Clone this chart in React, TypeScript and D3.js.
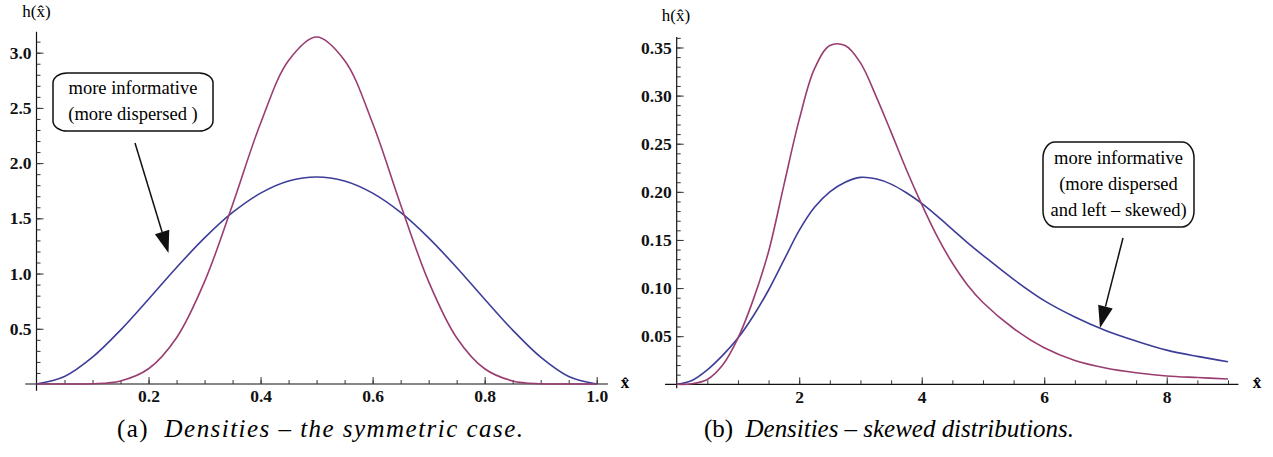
import React, { useEffect, useRef } from "react";
import * as d3 from "d3";

// ---- panel (a): densities, symmetric case ----
const xsA = [0, 0.05, 0.1, 0.15, 0.2, 0.25, 0.3, 0.35, 0.4, 0.45, 0.5, 0.55, 0.6, 0.65, 0.7, 0.75, 0.8, 0.85, 0.9, 0.95, 1.0];
const blueA = [0, 0.068, 0.243, 0.488, 0.768, 1.055, 1.323, 1.553, 1.728, 1.838, 1.875, 1.838, 1.728, 1.553, 1.323, 1.055, 0.768, 0.488, 0.243, 0.068, 0];
const redA = [0, 0, 0.002, 0.028, 0.138, 0.419, 0.927, 1.624, 2.361, 2.929, 3.142, 2.929, 2.361, 1.624, 0.927, 0.419, 0.138, 0.028, 0.002, 0, 0];
const xTicksA = [0.2, 0.4, 0.6, 0.8, 1.0];
const yTicksA = [0.5, 1.0, 1.5, 2.0, 2.5, 3.0];
const noteA = ["more informative", "(more dispersed )"];

// ---- panel (b): densities, skewed distributions ----
const xsB = [0, 0.25, 0.5, 0.75, 1, 1.25, 1.5, 1.75, 2, 2.25, 2.5, 2.75, 3, 3.25, 3.5, 3.75, 4, 4.25, 4.5, 4.75, 5, 5.5, 6, 6.5, 7, 7.5, 8, 8.5, 9];
const blueB = [0, 0.004, 0.015, 0.03, 0.048, 0.071, 0.098, 0.129, 0.16, 0.184, 0.2, 0.21, 0.215, 0.2135, 0.208, 0.199, 0.188, 0.175, 0.161, 0.147, 0.134, 0.109, 0.087, 0.07, 0.056, 0.045, 0.0355, 0.029, 0.0235];
const redB = [0, 0.0005, 0.005, 0.02, 0.048, 0.088, 0.138, 0.207, 0.275, 0.328, 0.352, 0.352, 0.334, 0.3, 0.262, 0.223, 0.187, 0.154, 0.126, 0.103, 0.085, 0.058, 0.038, 0.0248, 0.017, 0.012, 0.0087, 0.007, 0.0055];
const xTicksB = [2, 4, 6, 8];
const yTicksB = [0.05, 0.1, 0.15, 0.2, 0.25, 0.3, 0.35];
const noteB = ["more informative", "(more dispersed", "and left \u2013 skewed)"];

const BLUE = "#3d3d99";
const RED = "#993d71";
const SERIF = "'Liberation Serif', 'DejaVu Serif', serif";

function drawPanel(svg, p) {
  const x = d3.scaleLinear().domain(p.xDomain).range(p.xRange);
  const y = d3.scaleLinear().domain(p.yDomain).range(p.yRange);
  const g = svg.append("g");

  // axis lines (axes cross at the origin, a bit of padding past the ends)
  g.append("line")
    .attr("x1", x(p.xLine[0])).attr("x2", x(p.xLine[1]))
    .attr("y1", y(0)).attr("y2", y(0))
    .attr("stroke", "#111").attr("stroke-width", 1.2);
  g.append("line")
    .attr("x1", x(0)).attr("x2", x(0))
    .attr("y1", y(p.yLine[0])).attr("y2", y(p.yLine[1]))
    .attr("stroke", "#111").attr("stroke-width", 1.2);

  // x ticks, pointing up
  const xMinor = g.append("g").attr("transform", `translate(0,${y(0)})`)
    .call(d3.axisBottom(x).tickValues(p.xMinor).tickSize(-4).tickFormat(() => ""));
  const xMajor = g.append("g").attr("transform", `translate(0,${y(0)})`)
    .call(d3.axisBottom(x).tickValues(p.xTicks).tickSize(-7).tickPadding(6).tickFormat(p.xFormat));

  // y ticks, pointing right
  const yMinor = g.append("g").attr("transform", `translate(${x(0)},0)`)
    .call(d3.axisLeft(y).tickValues(p.yMinor).tickSize(-4).tickFormat(() => ""));
  const yMajor = g.append("g").attr("transform", `translate(${x(0)},0)`)
    .call(d3.axisLeft(y).tickValues(p.yTicks).tickSize(-7).tickPadding(5).tickFormat(p.yFormat));

  [xMinor, xMajor, yMinor, yMajor].forEach((a) => {
    a.select(".domain").remove();
    a.attr("color", "#333")
      .attr("font-family", SERIF)
      .attr("font-weight", "bold")
      .attr("font-size", 17.5);
    a.selectAll("text").attr("fill", "#111");
  });

  // curves
  const line = d3.line()
    .x((d) => x(d[0]))
    .y((d) => y(d[1]))
    .curve(d3.curveCatmullRom.alpha(0.5));
  p.series.forEach((s) => {
    g.append("path")
      .attr("d", line(p.xs.map((v, i) => [v, s.values[i]])))
      .attr("fill", "none")
      .attr("stroke", s.color)
      .attr("stroke-width", 1.6);
  });

  // axis titles
  g.append("text")
    .attr("x", p.yTitle[0]).attr("y", p.yTitle[1])
    .attr("text-anchor", "middle")
    .attr("font-family", SERIF).attr("font-size", 17)
    .text("h(x\u0302)");
  g.append("text")
    .attr("x", p.xTitle[0]).attr("y", p.xTitle[1])
    .attr("text-anchor", "middle")
    .attr("font-family", SERIF).attr("font-size", 17).attr("font-weight", "bold")
    .text("x\u0302");

  // annotation box + arrow
  const b = p.box;
  g.append("rect")
    .attr("x", b.x).attr("y", b.y).attr("width", b.w).attr("height", b.h)
    .attr("rx", b.rx).attr("ry", b.ry)
    .attr("fill", "white").attr("stroke", "#111").attr("stroke-width", 1.5);
  b.lines.forEach((t, i) => {
    g.append("text")
      .attr("x", b.x + b.w / 2).attr("y", b.firstBase + i * 26)
      .attr("text-anchor", "middle")
      .attr("font-family", SERIF).attr("font-size", 18.5)
      .text(t);
  });

  const [sx, sy] = p.arrow.from;
  const [tx, ty] = p.arrow.to;
  const len = Math.hypot(tx - sx, ty - sy);
  const ux = (tx - sx) / len, uy = (ty - sy) / len;
  const head = 22, half = 7.5;
  const bx = tx - ux * head, by = ty - uy * head;
  g.append("line")
    .attr("x1", sx).attr("y1", sy).attr("x2", bx).attr("y2", by)
    .attr("stroke", "#111").attr("stroke-width", 1.5);
  g.append("polygon")
    .attr("points", [[tx, ty], [bx - uy * half, by + ux * half], [bx + uy * half, by - ux * half]].map((q) => q.join(",")).join(" "))
    .attr("fill", "#111");
}

const App = () => {
  const svgRef = useRef(null);

  useEffect(() => {
    const svg = d3.select(svgRef.current);
    svg.selectAll("*").remove();

    drawPanel(svg, {
      xs: xsA,
      series: [{ values: blueA, color: BLUE }, { values: redA, color: RED }],
      xDomain: [0, 1], xRange: [36.5, 596.7],
      yDomain: [0, 3.19], yRange: [384, 31.7],
      xLine: [-0.02, 1.02], yLine: [-0.06, 3.19],
      xTicks: xTicksA, xMinor: d3.range(0.05, 1.001, 0.05),
      yTicks: yTicksA, yMinor: d3.range(0.1, 3.15, 0.1),
      xFormat: d3.format(".1f"), yFormat: d3.format(".1f"),
      yTitle: [36.5, 17], xTitle: [625, 388],
      box: { x: 53, y: 73, w: 160, h: 58, rx: 14, ry: 10, firstBase: 94, lines: noteA },
      arrow: { from: [135, 143], to: [168.5, 253] },
    });

    drawPanel(svg, {
      xs: xsB,
      series: [{ values: blueB, color: BLUE }, { values: redB, color: RED }],
      xDomain: [0, 9], xRange: [676.7, 1228],
      yDomain: [0, 0.361], yRange: [384.3, 36.9],
      xLine: [-0.19, 9.17], yLine: [-0.004, 0.361],
      xTicks: xTicksB, xMinor: d3.range(0.5, 9.01, 0.5),
      yTicks: yTicksB, yMinor: d3.range(0.01, 0.3605, 0.01),
      xFormat: d3.format("d"), yFormat: d3.format(".2f"),
      yTitle: [676, 21], xTitle: [1257, 388],
      box: { x: 1043, y: 142, w: 151, h: 85, rx: 12, ry: 16, firstBase: 164, lines: noteB },
      arrow: { from: [1123, 238], to: [1100, 328] },
    });

    // sub-figure captions
    const captions = [
      { x: 117, w: 406, label: "(a)", text: "Densities \u2013 the symmetric case." },
      { x: 704, w: 370, label: "(b)", text: "Densities \u2013 skewed distributions." },
    ];
    captions.forEach((c) => {
      const t = svg.append("text")
        .attr("x", c.x).attr("y", 437)
        .attr("font-family", SERIF).attr("font-size", 25)
        .attr("textLength", c.w).attr("lengthAdjust", "spacing");
      t.append("tspan").text(c.label + "\u00a0\u00a0");
      t.append("tspan").attr("font-style", "italic").text(c.text);
    });
  }, []);

  return (
    <svg
      ref={svgRef}
      width={1273}
      height={457}
      style={{ position: "absolute", left: 0, top: 0, background: "white" }}
    />
  );
};

export default App;
